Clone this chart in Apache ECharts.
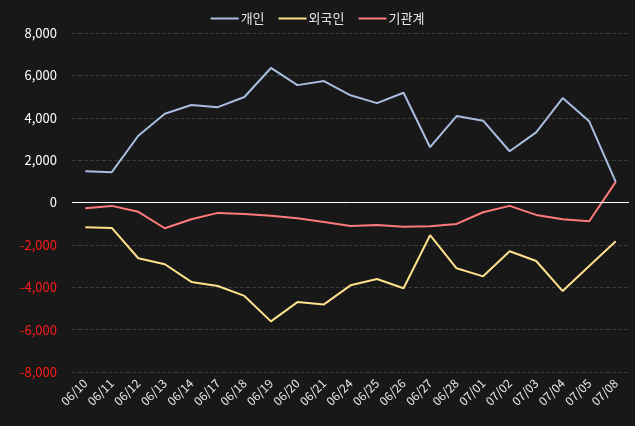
<!DOCTYPE html>
<html><head><meta charset="utf-8">
<script src="https://cdn.jsdelivr.net/npm/echarts@6/dist/echarts.min.js"></script>
<style>html,body{margin:0;padding:0;background:#181818;}#c{width:635px;height:426px;}</style>
</head><body><div id="c"></div>
<script>
var categories = ['06/10','06/11','06/12','06/13','06/14','06/17','06/18','06/19','06/20','06/21','06/24','06/25','06/26','06/27','06/28','07/01','07/02','07/03','07/04','07/05','07/08'];
var individual = [1480,1430,3150,4190,4600,4500,4980,6350,5540,5730,5060,4690,5180,2610,4080,3860,2420,3310,4930,3830,975];
var foreign = [-1170,-1200,-2630,-2915,-3750,-3940,-4410,-5610,-4700,-4810,-3910,-3610,-4050,-1545,-3105,-3485,-2300,-2760,-4180,-2995,-1830];
var institution = [-270,-160,-440,-1215,-790,-490,-540,-630,-740,-915,-1105,-1060,-1150,-1120,-1010,-460,-160,-585,-790,-885,975];
var seriesNames = ['개인','외국인','기관계'];
var colors = ['#a9bde0','#ffe08c','#ff7a7a'];
var font = '"Noto Sans CJK KR","Noto Sans",sans-serif';
var chart = echarts.init(document.getElementById('c'));
function mk(name, data, color){
  return {name:name,type:'line',data:data,symbol:'none',smooth:false,
    lineStyle:{width:2,color:color},itemStyle:{color:color}};
}
chart.setOption({
  backgroundColor:'#181818',
  animation:false,
  color:colors,
  legend:{top:7,left:'center',icon:'rect',itemWidth:28,itemHeight:2,itemGap:14,
    textStyle:{color:'#e8e8e8',fontSize:13,fontFamily:font,padding:[0,0,0,-3]},data:seriesNames},
  grid:{left:72,right:6,top:33,bottom:54},
  xAxis:{type:'category',data:categories,boundaryGap:true,
    axisLine:{show:false},axisTick:{show:false},
    axisLabel:{rotate:45,color:'#e8e8e8',fontSize:12,fontFamily:font,interval:0,margin:9}},
  yAxis:{type:'value',min:-8000,max:8000,interval:2000,
    axisLine:{show:false},axisTick:{show:false},
    splitLine:{lineStyle:{color:'#3a3a3a',type:'dashed',width:1}},
    axisLabel:{fontSize:13,fontFamily:font,margin:15,
      formatter:function(v){return echarts.format.addCommas(v);},
      color:function(v){return Number(v)<0?'#ff1a1a':'#ffffff';}}},
  series:[
    mk(seriesNames[0],individual,colors[0]),
    mk(seriesNames[1],foreign,colors[1]),
    Object.assign(mk(seriesNames[2],institution,colors[2]),{
      markLine:{silent:true,symbol:'none',label:{show:false},
        lineStyle:{color:'#ffffff',type:'solid',width:1},data:[{yAxis:0}]}})
  ]
});
</script></body></html>
